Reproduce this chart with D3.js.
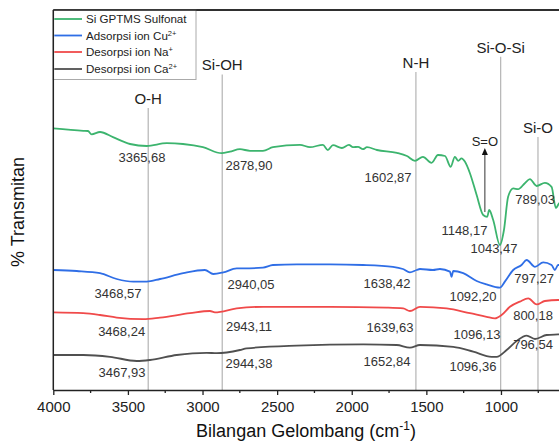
<!DOCTYPE html>
<html><head><meta charset="utf-8">
<script src="https://cdn.jsdelivr.net/npm/d3@7"></script>
<style>
html,body{margin:0;padding:0;background:#fff;}
svg{display:block;}
svg text{font-family:"Liberation Sans",Arial,Helvetica,sans-serif;}
</style></head>
<body><svg id="c" width="559" height="443"></svg>
<script>
// ---- data (wavenumber cm-1, transmittance arbitrary %) ----
const greenWn = [4000,3799,3768,3743,3687,3600,3486,3374,3240,3131,2997,2872,2816,2749,2682,2595,2528,2347,2280,2193,2160,2126,2066,2019,1992,1958,1925,1898,1831,1697,1630,1576,1523,1465,1422,1375,1337,1309,1287,1264,1242,1208,1163,1119,1092,1079,1052,1007,980,952,918,885,840,806,761,706,661,632,610,560];
const greenT  = [67.9,67.3,67.25,66.4,67.0,65.7,64.0,63.5,64.2,64.0,63.2,61.7,62.1,62.7,62.3,62.3,63.2,63.8,63.2,63.8,62.5,63.7,63.0,63.8,63.2,63.3,62.7,63.2,62.5,61.8,61.0,59.8,60.8,59.3,61.25,61.0,58.3,60.8,59.8,60.4,59.6,56.7,51.25,46.25,45.8,47.5,45.0,38.75,42.5,50.8,52.9,52.7,54.2,55.2,53.5,54.3,53.3,48.0,49.2,50.0];

const blueWn = [4000,3843,3687,3575,3464,3374,3285,3129,2984,2928,2861,2771,2729,2595,2528,2367,2146,1925,1724,1657,1610,1565,1543,1456,1409,1342,1331,1320,1253,1163,1096,1007,974,918,862,828,772,717,661,639,617,560];
const blueT  = [32.5,32.25,31.7,30.25,29.6,29.6,30.25,31.7,32.5,31.5,31.9,32.9,32.9,33.1,33.75,33.9,33.9,33.75,33.3,32.75,31.9,32.5,32.75,32.5,32.75,32.1,30.8,32.25,31.7,29.75,28.9,28.1,29.6,32.5,33.75,35.0,33.3,34.4,33.75,32.5,33.75,33.5];

const redWn = [4000,3799,3687,3575,3397,3285,3084,2950,2917,2771,2593,2146,1766,1655,1610,1543,1364,1208,1096,1041,996,940,873,817,761,706,617,560];
const redT  = [21.9,21.7,21.25,20.6,20.2,20.6,21.7,22.25,21.9,22.9,23.3,23.3,23.1,22.9,22.25,23.3,22.9,21.7,20.8,20.4,21.25,23.3,24.6,25.4,23.9,24.75,25.0,25.0];

const blackWn = [4000,3799,3620,3441,3352,3173,2972,2905,2749,2704,2369,1923,1699,1610,1543,1320,1186,1063,1029,962,895,828,772,694,617,560];
const blackT  = [11.25,11.25,10.8,9.75,10.0,11.25,11.8,11.7,12.5,12.9,13.6,13.9,13.75,13.1,13.75,13.3,12.1,10.8,10.8,12.5,14.75,16.1,15.25,16.25,16.4,16.5];

const seriesNames  = ["Si GPTMS Sulfonat","Adsorpsi ion Cu","Desorpsi ion Na","Desorpsi ion Ca"];
const seriesSup    = ["","2+","+","2+"];
const seriesColors = ["#3cb46e","#2f6ee6","#f04a4a","#505050"];

const xTicks = [4000,3500,3000,2500,2000,1500,1000];
const xMinor = [3750,3250,2750,2250,1750,1250,750];

// group marker lines
const markLabels = ["O-H","Si-OH","N-H","Si-O-Si","Si-O"];
const markWn     = [3364,2868,1570,1002,752];
const markTop    = [73,81.4,82,85.8,65.75];

// S=O arrow
const arrowWn = 1108, arrowFrom = 47, arrowTo = 63;

// peak annotations
const peakText = ["3365,68","2878,90","1602,87","1148,17","1043,47","789,03",
                  "3468,57","2940,05","1638,42","1092,20","797,27",
                  "3468,24","2943,11","1639,63","1096,13","800,18",
                  "3467,93","2944,38","1652,84","1096,36","796,54"];
const peakWn = [3406,2689,1757,1245,1047,771, 3566,2675,1764,1188,778, 3542,2689,1744,1161,785, 3540,2689,1764,1188,785];
const peakT  = [60.75,58.75,55.75,42.5,37.9,50.2, 26.7,29,29.2,26,30.4, 17.1,18.5,18.1,16.5,21.25, 6.8,9.2,9.6,8.3,13.9];

// ---- layout ----
const FONT = "Liberation Sans, Arial, Helvetica, sans-serif";
const svg = d3.select("#c").attr("font-family",FONT);
const L = 53.3, R = 590.5, T = 10, B = 390;
const x = d3.scaleLinear().domain([4000,400]).range([L,R]);
const y = d3.scaleLinear().domain([2.5,97.5]).range([B,T]);

// marker lines (behind curves)
const mg = svg.append("g");
markWn.forEach((w,i)=>{
  mg.append("line").attr("x1",x(w)).attr("x2",x(w)).attr("y1",y(markTop[i])).attr("y2",B)
    .attr("stroke","#b4b4b4").attr("stroke-width",1.2);
  mg.append("text").attr("x",x(w)).attr("y",y(markTop[i])-4).attr("text-anchor","middle")
    .attr("font-size",15).attr("fill","#222").text(markLabels[i]);
});

// arrow S=O
svg.append("line").attr("x1",x(arrowWn)).attr("x2",x(arrowWn)).attr("y1",y(arrowFrom)).attr("y2",y(arrowTo)+6)
  .attr("stroke","#555").attr("stroke-width",1.2);
svg.append("path")
  .attr("d",`M${x(arrowWn)},${y(arrowTo)} L${x(arrowWn)-3},${y(arrowTo)+7} L${x(arrowWn)+3},${y(arrowTo)+7} Z`)
  .attr("fill","#111");
svg.append("text").attr("x",x(arrowWn)).attr("y",y(arrowTo)-2).attr("text-anchor","middle")
  .attr("font-size",13).attr("fill","#222").text("S=O");

// curves
svg.append("clipPath").attr("id","pc").append("rect").attr("x",L).attr("y",T).attr("width",R-L).attr("height",B-T);
const line = d3.line().x(d=>x(d[0])).y(d=>y(d[1])).curve(d3.curveMonotoneX);
const all = [[greenWn,greenT],[blueWn,blueT],[redWn,redT],[blackWn,blackT]];
const cg = svg.append("g").attr("clip-path","url(#pc)");
all.forEach((s,i)=>{
  const pts = s[0].map((w,j)=>[w,s[1][j]]).sort((a,b)=>b[0]-a[0]);
  cg.append("path").attr("d",line(pts)).attr("fill","none")
    .attr("stroke",seriesColors[i]).attr("stroke-width",1.8).attr("stroke-linejoin","round");
});

// peak labels
peakText.forEach((t,i)=>{
  svg.append("text").attr("x",x(peakWn[i])).attr("y",y(peakT[i])).attr("dy","0.35em")
    .attr("text-anchor","middle").attr("font-size",13).attr("fill","#333").text(t);
});

// frame
svg.append("line").attr("x1",L).attr("x2",R).attr("y1",T).attr("y2",T).attr("stroke","#222").attr("stroke-width",1.5);

// x axis
const ax = svg.append("g").attr("transform",`translate(0,${B})`)
  .call(d3.axisBottom(x).tickValues(xTicks).tickFormat(d3.format("d")).tickSize(5).tickPadding(6).tickSizeOuter(0));
ax.attr("font-family",FONT);
ax.select(".domain").attr("stroke","#222").attr("stroke-width",1.5);
ax.selectAll(".tick line").attr("stroke","#222").attr("stroke-width",1.3);
ax.selectAll(".tick text").attr("font-size",15).attr("fill","#222");
const mx = svg.append("g").attr("transform",`translate(0,${B})`);
xMinor.forEach(v=>{
  mx.append("line").attr("x1",x(v)).attr("x2",x(v)).attr("y1",0).attr("y2",3).attr("stroke","#222").attr("stroke-width",1.3);
});

// axis titles
const xt = svg.append("text").attr("x",306).attr("y",437).attr("text-anchor","middle").attr("font-size",18).attr("fill","#111");
xt.append("tspan").text("Bilangan Gelombang (cm");
xt.append("tspan").attr("dy",-7).attr("font-size",12).text("-1");
xt.append("tspan").attr("dy",7).text(")");
svg.append("text").attr("transform","translate(24,212) rotate(-90)").attr("text-anchor","middle")
  .attr("font-size",18).attr("fill","#111").text("% Transmitan");

// legend
const lg = svg.append("g");
lg.append("rect").attr("x",L).attr("y",T).attr("width",196-L).attr("height",79.5-T)
  .attr("fill","#fff").attr("stroke","#aaa").attr("stroke-width",1);
const rowY = [19,35.5,52,69];
seriesNames.forEach((n,i)=>{
  lg.append("line").attr("x1",L+1).attr("x2",82).attr("y1",rowY[i]).attr("y2",rowY[i])
    .attr("stroke",seriesColors[i]).attr("stroke-width",1.8);
  const t = lg.append("text").attr("x",86).attr("y",rowY[i]).attr("dy","0.35em").attr("font-size",11.6).attr("fill","#222");
  t.append("tspan").text(n);
  if (seriesSup[i]) t.append("tspan").attr("dy",-4).attr("font-size",7.5).text(seriesSup[i]);
});
svg.append("line").attr("x1",L).attr("x2",L).attr("y1",T).attr("y2",B).attr("stroke","#222").attr("stroke-width",1.5);
svg.append("line").attr("x1",L).attr("x2",R).attr("y1",T).attr("y2",T).attr("stroke","#222").attr("stroke-width",1.5);
</script></body></html>
